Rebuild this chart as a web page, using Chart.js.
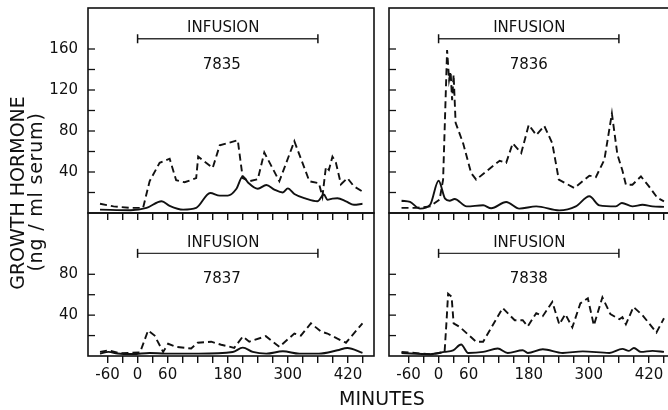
<!DOCTYPE html>
<html>
<head>
<meta charset="utf-8">
<script src="https://cdn.jsdelivr.net/npm/chart.js@4.4.1/dist/chart.umd.min.js"></script>
<style>
  html, body { margin: 0; padding: 0; background: #fff; overflow: hidden; }
  body { width: 668px; height: 410px; position: relative; font-family: 'DejaVu Sans', sans-serif; color: #111; }
  canvas { position: absolute; }
  .lab { position: absolute; white-space: nowrap; font-size: 19px; line-height: 1; }
  .rot { transform: translate(-50%, -50%) rotate(-90deg); }
</style>
</head>
<body>
<canvas id="c7835" width="380" height="222" style="left:0;top:0"></canvas>
<canvas id="c7836" width="380" height="222" style="left:301px;top:0"></canvas>
<canvas id="c7837" width="380" height="205" style="left:0;top:205px"></canvas>
<canvas id="c7838" width="380" height="205" style="left:301px;top:205px"></canvas>
<div class="lab rot" style="left:17px;top:193px">GROWTH HORMONE</div>
<div class="lab rot" style="left:35px;top:192px;letter-spacing:0.8px">(ng / ml serum)</div>
<div class="lab" style="left:382px;top:398px;transform:translate(-50%,-50%)">MINUTES</div>
<script>
// axis ticks
const xTicks = [-60, -30, 0, 30, 60, 90, 120, 150, 180, 210, 240, 270, 300, 330, 360, 390, 420, 450];
const xTickLabels = [-60, 0, 60, 180, 300, 420];
const yTicksTop = [20, 40, 60, 80, 100, 120, 140, 160];
const yLabelsTop = [40, 80, 120, 160];
const yTicksBottom = [20, 40, 60, 80];
const yLabelsBottom = [40, 80];
const infusion = [0, 360];

// 7835 - dashed / solid (minutes, ng/ml)
const t7835dash = [-75, -48, -15, 11, 24, 44, 64, 77, 94, 117, 121, 150, 164, 200, 210, 223, 240, 253, 283, 313, 343, 362, 369, 376, 382, 389, 396, 406, 419, 432, 449];
const gh7835dash = [9, 6.5, 5, 5, 31, 49, 53, 32, 30, 34, 55, 44, 66, 71, 34, 31, 33, 59, 31, 70, 31, 29, 16, 45, 42, 55, 49, 28, 34, 26, 21];
const t7835solid = [-75, -14, 18, 48, 64, 91, 117, 145, 164, 180, 197, 210, 220, 240, 257, 273, 290, 300, 313, 336, 359, 372, 379, 389, 399, 416, 432, 449];
const gh7835solid = [3.3, 2.7, 5, 11.4, 7, 3.3, 5, 19.5, 17, 17, 23.4, 35.7, 30, 23.7, 27.3, 22.8, 20, 24, 18.5, 14, 11.4, 18, 13, 14, 14.4, 11.4, 8, 9];

// 7836
const t7836dash = [-74, -44, -17, 2, 9, 17, 21, 24, 27, 30, 34, 49, 65, 75, 95, 122, 135, 148, 165, 180, 195, 211, 227, 240, 271, 301, 314, 331, 346, 357, 367, 374, 387, 404, 420, 437, 450];
const gh7836dash = [5, 5, 6.5, 13, 32.5, 159, 130, 138, 110, 135, 88, 68, 39, 32.5, 40.6, 51, 49, 68, 58.5, 86, 76, 85, 68, 32.5, 24.4, 36.4, 35, 52, 97, 57, 41.5, 27.6, 27.6, 35.7, 26, 14.7, 11.4];
const t7836solid = [-74, -57, -37, -17, 0, 13, 22, 32, 56, 89, 105, 135, 161, 195, 241, 274, 301, 321, 354, 366, 387, 407, 427, 450];
const gh7836solid = [12, 10.8, 4.3, 8, 31.5, 14, 12, 13.7, 6.5, 7.5, 4.6, 10.8, 4.3, 6.5, 2.6, 6.5, 16.3, 7.5, 6.5, 9.8, 6.5, 8, 6.5, 6];

// 7837
const t7837dash = [-75, -58, -35, 5, 21, 34, 51, 61, 77, 107, 120, 147, 167, 193, 210, 223, 256, 283, 313, 326, 346, 366, 379, 399, 416, 449];
const gh7837dash = [4, 5.6, 2.6, 3.6, 25, 20, 4, 12, 9, 7.3, 13, 14, 11, 8, 19, 14, 19.4, 9, 22, 20, 32, 24, 22, 17, 13, 32];
const t7837solid = [-75, -58, -40, -9, 24, 56, 122, 190, 210, 230, 257, 290, 323, 362, 399, 419, 449];
const gh7837solid = [2.3, 4, 2.5, 2, 3, 2.3, 2.3, 3.9, 8.2, 4, 2.3, 4.6, 2.3, 2.3, 5.6, 7.9, 3];

// 7838
const t7838dash = [-74, -17, 12, 16, 19, 26, 30, 42, 75, 89, 128, 152, 168, 178, 195, 208, 227, 241, 253, 267, 283, 298, 310, 327, 343, 361, 367, 374, 389, 407, 435, 450];
const gh7838dash = [4, 1.7, 4, 35, 61, 58, 32, 28.5, 14, 14, 47, 35, 35, 29, 42, 39, 53, 31, 41, 28, 51.5, 56.5, 30, 57.4, 41, 36, 38, 31, 48, 40, 23, 37];
const t7838solid = [-74, -17, 12, 29, 45, 59, 89, 118, 138, 168, 178, 208, 248, 288, 341, 367, 380, 390, 404, 427, 450];
const gh7838solid = [3, 1.7, 4, 5.6, 11.2, 3, 4, 7.3, 3, 5.6, 3, 6.6, 3, 4.5, 3, 7, 5, 7.9, 4, 5, 4];

Chart.defaults.font.family = "'DejaVu Sans', sans-serif";
Chart.defaults.color = '#111';
const ink = '#111';

// INFUSION text, animal number, frame and inward y ticks
const panelMarks = {
  id: 'panelMarks',
  afterDatasetsDraw(chart, args, o) {
    const { ctx, chartArea: a, scales: { x, y } } = chart;
    ctx.save();
    ctx.fillStyle = ink;
    ctx.font = "15px 'DejaVu Sans'";
    ctx.textAlign = 'center';
    ctx.textBaseline = 'middle';
    ctx.fillText('INFUSION', x.getPixelForValue(o.textT), y.getPixelForValue(o.textY));
    ctx.fillText(o.name, x.getPixelForValue(o.nameT), y.getPixelForValue(o.nameY));
    ctx.strokeStyle = ink;
    ctx.lineWidth = 1.6;
    ctx.strokeRect(a.left, a.top, a.right - a.left, a.bottom - a.top);
    ctx.lineWidth = 1.3;
    y.ticks.forEach(t => {
      const py = y.getPixelForValue(t.value);
      ctx.beginPath();
      ctx.moveTo(a.left, py);
      ctx.lineTo(a.left + 7, py);
      ctx.stroke();
    });
    ctx.restore();
  }
};

const pts = (ts, vs) => ts.map((t, i) => ({ x: t, y: vs[i] }));

// no label overflow padding, so every panel box lands where asked
const noPad = s => { s.paddingLeft = 0; s.paddingRight = 0; s.paddingTop = 0; s.paddingBottom = 0; };

function makePanel(p) {
  const top = p.row === 'top';
  const left = p.col === 'left';
  const yTicks = top ? yTicksTop : yTicksBottom;
  const yLabels = top ? yLabelsTop : yLabelsBottom;
  const barY = top ? 170 : 100.5;
  new Chart(document.getElementById(p.canvas), {
    type: 'line',
    data: {
      datasets: [
        { data: pts(p.dashT, p.dashV), borderColor: ink, borderWidth: 1.9, borderDash: [7, 4], pointRadius: 0 },
        { data: pts(p.solidT, p.solidV), borderColor: ink, borderWidth: 1.9, pointRadius: 0, cubicInterpolationMode: 'monotone' },
        { data: infusion.map(t => ({ x: t, y: barY })), borderColor: '#333', borderWidth: 1.3,
          pointStyle: 'line', pointRotation: 90, pointRadius: 4.5, pointBorderWidth: 1.5, pointBorderColor: ink }
      ]
    },
    options: {
      responsive: false,
      animation: false,
      devicePixelRatio: 1,
      layout: { padding: { top: 8, right: 5, left: 0, bottom: 0 } },
      plugins: {
        legend: { display: false },
        tooltip: { enabled: false },
        panelMarks: {
          name: p.name,
          textT: left ? 171 : 181, textY: top ? 180 : 110.5,
          nameT: left ? 168 : 180, nameY: top ? 144 : 75
        }
      },
      scales: {
        x: {
          type: 'linear', min: -99, max: 472,
          afterBuildTicks: s => { s.ticks = xTicks.map(v => ({ value: v })); },
          afterFit: s => { s.height = top ? 9 : 54; noPad(s); },
          grid: { drawOnChartArea: false, drawTicks: true, tickLength: 7, color: ink, lineWidth: 1.4 },
          border: { display: false },
          ticks: { autoSkip: false, maxRotation: 0, padding: 3, font: { size: 15 },
                   callback: v => (!top && xTickLabels.includes(v)) ? String(v) : '' }
        },
        y: {
          type: 'linear', min: 0, max: top ? 200 : 140,
          afterBuildTicks: s => { s.ticks = yTicks.map(v => ({ value: v })); },
          afterFit: s => { s.width = 88; noPad(s); },
          grid: { display: false, drawTicks: false },
          border: { display: false },
          ticks: { autoSkip: false, padding: 10, font: { size: 15 },
                   callback: v => (left && yLabels.includes(v)) ? String(v) : '' }
        }
      }
    },
    plugins: [panelMarks]
  });
}

makePanel({ canvas: 'c7835', name: '7835', row: 'top', col: 'left', dashT: t7835dash, dashV: gh7835dash, solidT: t7835solid, solidV: gh7835solid });
makePanel({ canvas: 'c7836', name: '7836', row: 'top', col: 'right', dashT: t7836dash, dashV: gh7836dash, solidT: t7836solid, solidV: gh7836solid });
makePanel({ canvas: 'c7837', name: '7837', row: 'bottom', col: 'left', dashT: t7837dash, dashV: gh7837dash, solidT: t7837solid, solidV: gh7837solid });
makePanel({ canvas: 'c7838', name: '7838', row: 'bottom', col: 'right', dashT: t7838dash, dashV: gh7838dash, solidT: t7838solid, solidV: gh7838solid });
</script>
</body>
</html>
